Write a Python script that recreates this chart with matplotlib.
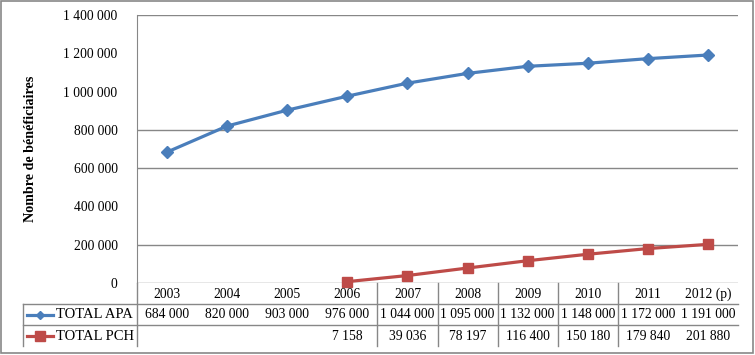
import matplotlib
matplotlib.use("Agg")
import matplotlib.pyplot as plt
from matplotlib.lines import Line2D
from matplotlib.patches import Rectangle
import matplotlib.transforms as mtransforms

plt.rcParams['font.family'] = ['Liberation Serif', 'DejaVu Serif']

years = ["2003", "2004", "2005", "2006", "2007", "2008", "2009", "2010", "2011", "2012 (p)"]
apa = [684000, 820000, 903000, 976000, 1044000, 1095000, 1132000, 1148000, 1172000, 1191000]
pch = [None, None, None, 7158, 39036, 78197, 116400, 150180, 179840, 201880]
series_names = ["TOTAL APA", "TOTAL PCH"]
yticks = [0, 200000, 400000, 600000, 800000, 1000000, 1200000, 1400000]

def fmt(v):
    if v is None:
        return ""
    return f"{v:,}".replace(",", " ")

W, H = 755, 355
fig = plt.figure(figsize=(W / 100, H / 100), dpi=100)

def fx(px):
    return px / W

def fy(py):
    return 1 - py / H

gray = "#878787"
blue = "#4A7EBB"
red = "#BE4B48"

# plot area in pixels
left, right, top, bottom = 137, 738, 15, 283
ax = fig.add_axes([fx(left), fy(bottom), fx(right) - fx(left), fy(top) - fy(bottom)])
ax.set_xlim(-0.5, len(years) - 0.5)
ax.set_ylim(0, 1400000)
for s in ["top", "right", "bottom"]:
    ax.spines[s].set_visible(False)
ax.spines["left"].set_color(gray)
ax.set_xticks([])
ax.set_yticks(yticks)
ax.set_yticklabels([fmt(v) for v in yticks], fontsize=9.8)
ax.tick_params(axis="y", length=0, pad=14)

# horizontal gridlines (as they show in the reference)
for v in [0, 200000, 600000, 800000, 1400000]:
    ax.axhline(v, color=gray, lw=1, zorder=1)

x = list(range(len(years)))
ax.plot(x, apa, color=blue, lw=2.3, marker="D", ms=6.5, zorder=3, clip_on=False)
xp = [i for i, v in enumerate(pch) if v is not None]
yp = [v for v in pch if v is not None]
ax.plot(xp, yp, color=red, lw=2.3, marker="s", ms=7.5, zorder=3, clip_on=False)

ax.set_ylabel("Nombre de bénéficiaires", fontsize=10.2, fontweight="bold")
ax.yaxis.set_label_coords(-(left - 37) / (right - left), 0.5)

# data table under the chart
tr = mtransforms.blended_transform_factory(ax.transData, fig.transFigure)
row_y = [294, 315, 336]
for i, yr in enumerate(years):
    ax.text(i, fy(row_y[0]), yr, transform=tr, ha="center", va="center", fontsize=9.8)
    ax.text(i, fy(row_y[1]), fmt(apa[i]), transform=tr, ha="center", va="center", fontsize=9.8)
    ax.text(i, fy(row_y[2]), fmt(pch[i]), transform=tr, ha="center", va="center", fontsize=9.8)

# table lines
fig.add_artist(Line2D([fx(23), fx(right)], [fy(304), fy(304)], color=gray, lw=1))
fig.add_artist(Line2D([fx(23), fx(right)], [fy(325), fy(325)], color=gray, lw=1))
fig.add_artist(Line2D([fx(23), fx(23)], [fy(304), fy(346)], color=gray, lw=1))
fig.add_artist(Line2D([fx(left), fx(left)], [fy(bottom), fy(346)], color=gray, lw=1))
for b in [3.5, 4.5, 5.5, 6.5, 7.5]:
    ax.add_artist(Line2D([b, b], [fy(283), fy(346)], color=gray, lw=1, transform=tr, clip_on=False))

# legend keys in the table
for name, c, m, ms, yy in [(series_names[0], blue, "D", 4.5, 315), (series_names[1], red, "s", 7.5, 336)]:
    fig.add_artist(Line2D([fx(27), fx(53)], [fy(yy), fy(yy)], color=c, lw=2.3))
    fig.add_artist(Line2D([fx(40)], [fy(yy)], color=c, marker=m, ms=ms))
    fig.text(fx(56), fy(yy), name, ha="left", va="center", fontsize=10.5)

# outer frame
fig.add_artist(Rectangle((fx(1), fy(353)), fx(752), fy(1) - fy(353), fill=False,
                         edgecolor=gray, lw=1.2, transform=fig.transFigure))

fig.savefig("out.png", dpi=100)
